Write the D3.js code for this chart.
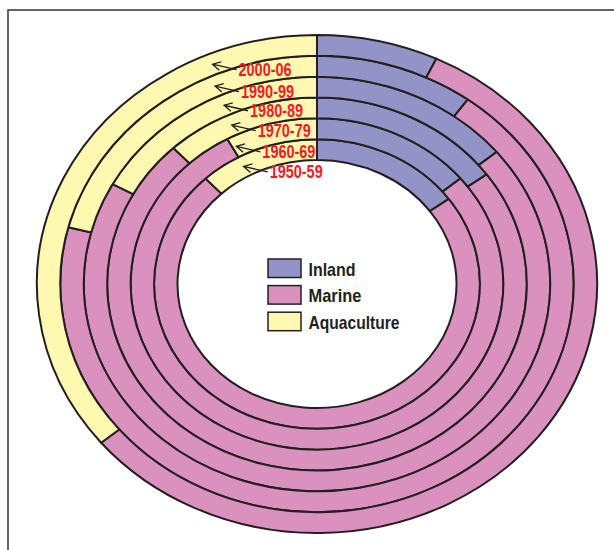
<!DOCTYPE html>
<html>
<head>
<meta charset="utf-8">
<script src="https://cdn.jsdelivr.net/npm/d3@7"></script>
<style>
  body { margin: 0; background: #fff; }
  svg { display: block; }
</style>
</head>
<body>
<div id="chart"></div>
<script>
// Share of fish production by source, per period (percent)
const periods = ["1950-59", "1960-69", "1970-79", "1980-89", "1990-99", "2000-06"];
const inland = [15, 14, 15, 14, 10, 7];
const marine = [73, 78, 73, 69, 69, 57];
const aquaculture = [12, 8, 12, 17, 21, 36];
const seriesNames = ["Inland", "Marine", "Aquaculture"];

const width = 614, height = 550;
const cx = 317, cy = 284, stretch = 1.125;   // rings are drawn as ellipses
const colors = d3.scaleOrdinal()
    .domain(seriesNames)
    .range(["#9294c7", "#da91be", "#fff8b0"]);
const stroke = "#231f20";
const narrow = "'Liberation Sans Narrow', 'Arial Narrow', 'Liberation Sans', Arial, sans-serif";

const svg = d3.select("#chart")
    .append("svg")
    .attr("width", width)
    .attr("height", height);

// frame (only top and left edges are in view)
svg.append("rect")
    .attr("x", 8).attr("y", 10)
    .attr("width", 800).attr("height", 800)
    .attr("fill", "none")
    .attr("stroke", "#333")
    .attr("stroke-width", 1.5);

// ring radii
const r = d3.scaleLinear().domain([0, periods.length]).range([124, 249]);

const pie = d3.pie().sort(null).value(d => d.value);

const rings = svg.append("g")
    .attr("transform", `translate(${cx},${cy}) scale(${stretch},1)`);

periods.forEach(function(p, i) {
    const values = [inland[i], marine[i], aquaculture[i]]
        .map((v, k) => ({ name: seriesNames[k], value: v }));
    const arc = d3.arc().innerRadius(r(i)).outerRadius(r(i + 1));
    rings.append("g")
        .selectAll("path")
        .data(pie(values))
        .enter().append("path")
        .attr("d", arc)
        .attr("fill", d => colors(d.data.name))
        .attr("stroke", stroke)
        .attr("stroke-width", 2)
        .attr("vector-effect", "non-scaling-stroke");
});

// period labels with arrows pointing into their ring
const labelAngles = [-29, -27.5, -25.5, -24.8, -24.6, -22.9];
const labels = svg.append("g");
periods.forEach(function(p, i) {
    const a = labelAngles[i] * Math.PI / 180;
    const rm = (r(i) + r(i + 1)) / 2;
    const tx = cx + stretch * rm * Math.sin(a);
    const ty = cy - rm * Math.cos(a);
    const ex = tx + 24, ey = ty + 5.5;
    const ang = Math.atan2(ey - ty, ex - tx);
    const h = 9, spread = 0.5;
    const h1 = [tx + h * Math.cos(ang - spread), ty + h * Math.sin(ang - spread)];
    const h2 = [tx + h * Math.cos(ang + spread), ty + h * Math.sin(ang + spread)];
    labels.append("path")
        .attr("d", `M${ex},${ey}L${tx},${ty}M${h1[0]},${h1[1]}L${tx},${ty}L${h2[0]},${h2[1]}`)
        .attr("fill", "none")
        .attr("stroke", stroke)
        .attr("stroke-width", 1.3);
    labels.append("text")
        .attr("x", tx + 26)
        .attr("y", ty + 11.5)
        .attr("textLength", 53)
        .attr("lengthAdjust", "spacingAndGlyphs")
        .attr("fill", "#ed1c24")
        .style("font-family", narrow)
        .style("font-weight", "bold")
        .style("font-size", "19px")
        .text(p);
});

// legend
const legend = svg.append("g").attr("transform", "translate(268,259)");
const legendWidths = { "Inland": 47, "Marine": 53, "Aquaculture": 91 };
seriesNames.forEach(function(name, k) {
    const g = legend.append("g").attr("transform", `translate(0,${k * 26.6})`);
    g.append("rect")
        .attr("width", 33).attr("height", 18.5)
        .attr("fill", colors(name))
        .attr("stroke", stroke)
        .attr("stroke-width", 1.5);
    g.append("text")
        .attr("x", 40.5)
        .attr("y", 16.5)
        .attr("textLength", legendWidths[name])
        .attr("lengthAdjust", "spacingAndGlyphs")
        .attr("fill", stroke)
        .style("font-family", narrow)
        .style("font-weight", "bold")
        .style("font-size", "19px")
        .text(name);
});
</script>
</body>
</html>
